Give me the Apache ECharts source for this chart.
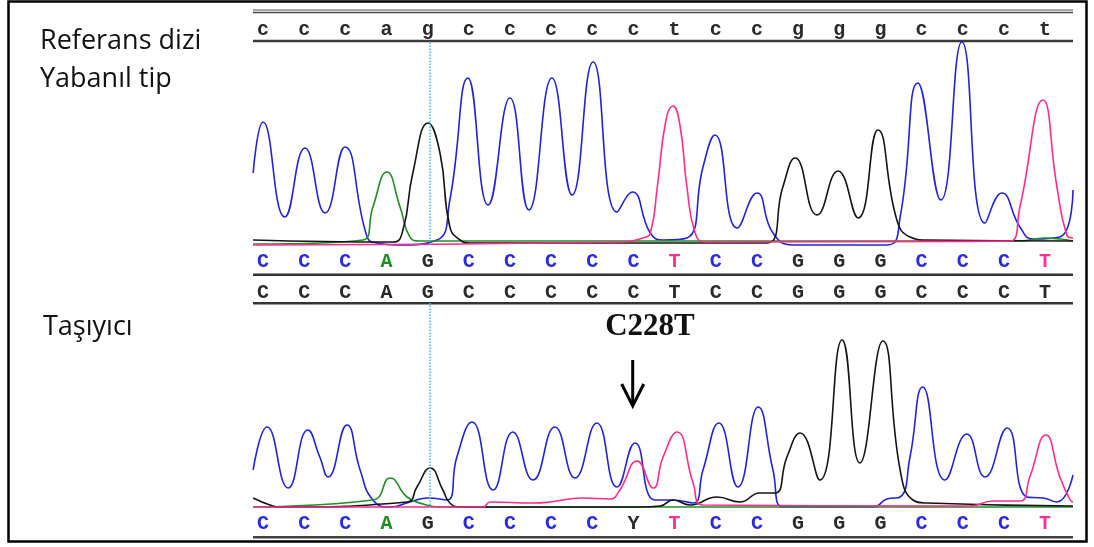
<!DOCTYPE html>
<html>
<head>
<meta charset="utf-8">
<title>C228T</title>
<script src="https://cdn.jsdelivr.net/npm/echarts@6/dist/echarts.min.js"></script>
<style>
  html, body { margin: 0; padding: 0; background: #fff; }
  #chart { width: 1094px; height: 547px; }
</style>
</head>
<body>
<div id="chart"></div>
<script>
// baz dizileri (referans / çağrılan bazlar)
const refBases = ['c', 'c', 'c', 'a', 'g', 'c', 'c', 'c', 'c', 'c', 't', 'c', 'c', 'g', 'g', 'g', 'c', 'c', 'c', 't']
const wtCalls = ['C', 'C', 'C', 'A', 'G', 'C', 'C', 'C', 'C', 'C', 'T', 'C', 'C', 'G', 'G', 'G', 'C', 'C', 'C', 'T']
const carRefBases = ['C', 'C', 'C', 'A', 'G', 'C', 'C', 'C', 'C', 'C', 'T', 'C', 'C', 'G', 'G', 'G', 'C', 'C', 'C', 'T']
const carCalls = ['C', 'C', 'C', 'A', 'G', 'C', 'C', 'C', 'C', 'Y', 'T', 'C', 'C', 'G', 'G', 'G', 'C', 'C', 'C', 'T']

/** Yabanıl tip izleri: [baz konumu, sinyal] */
const wtC = [[-0.24, 72], [0, 123], [0.53, 28], [1.02, 97], [1.51, 32], [1.99, 98], [2.53, 8], [2.77, 2], [3.26, 0], [4.23, 5], [4.54, 45], [4.98, 167], [5.47, 40], [6.0, 147], [6.46, 35], [7.02, 167], [7.51, 50], [8.02, 183], [8.6, 33], [8.97, 53], [9.41, 12], [9.72, 5], [10.3, 7], [10.69, 78], [10.98, 110], [11.52, 17], [12.0, 52], [12.39, 12], [12.88, 0], [15.16, 0], [15.48, 28], [15.91, 162], [16.47, 45], [16.98, 203], [17.54, 22], [17.95, 52], [18.39, 18], [18.71, 6], [19.36, 8], [19.68, 55]]
const wtA = [[-0.24, 1], [2.43, 5], [2.67, 38], [3.01, 73], [3.33, 38], [3.57, 8], [3.81, 4], [18.39, 4], [18.99, 7], [19.36, 6], [19.68, 4]]
const wtG = [[-0.24, 5], [3.16, 3], [3.4, 15], [3.64, 72], [4.01, 122], [4.3, 92], [4.54, 18], [4.79, 5], [5.03, 2], [12.24, 2], [12.63, 58], [12.93, 87], [13.46, 30], [13.97, 74], [14.46, 27], [14.94, 115], [15.4, 25], [15.72, 8], [16.13, 5], [19.68, 4]]
const wtT = [[-0.24, 0], [8.75, 3], [9.23, 7], [9.41, 12], [9.58, 58], [9.79, 125], [9.96, 139], [10.13, 120], [10.3, 58], [10.5, 12], [10.74, 3], [18.15, 4], [18.39, 38], [18.95, 145], [19.29, 58], [19.53, 10], [19.68, 7]]

/** Taşıyıcı izleri */
const carC = [[-0.24, 38], [0.1, 81], [0.61, 20], [1.09, 78], [1.38, 51], [1.58, 31], [2.04, 83], [2.36, 38], [2.67, 8], [3.09, 1], [3.57, 6], [4.01, 10], [4.47, 8], [4.71, 51], [5.08, 86], [5.59, 18], [6.07, 76], [6.56, 28], [7.09, 81], [7.58, 30], [8.11, 85], [8.6, 21], [9.04, 65], [9.52, 8], [9.96, 8], [10.45, 5], [10.69, 38], [11.08, 85], [11.54, 21], [12.03, 101], [12.39, 38], [12.63, 1], [14.82, 1], [15.16, 9], [15.48, 11], [15.72, 51], [16.03, 121], [16.57, 28], [17.1, 74], [17.54, 31], [18.08, 80], [18.56, 11], [18.95, 10], [19.29, 6], [19.68, 33]]
const carA = [[-0.24, 1], [2.67, 8], [3.09, 30], [3.5, 11], [3.89, 4], [4.3, 1], [19.68, 1]]
const carG = [[-0.24, 10], [0.17, 3], [0.41, 1], [3.5, 6], [3.74, 21], [4.06, 40], [4.37, 18], [4.54, 5], [4.79, 1], [9.16, 1], [9.65, 2], [9.96, 8], [10.38, 3], [11.03, 11], [11.59, 6], [12.07, 15], [12.44, 15], [12.73, 51], [13.05, 75], [13.53, 28], [14.07, 168], [14.5, 45], [15.06, 167], [15.48, 38], [15.79, 8], [16.13, 5], [19.68, 2]]
const carT = [[-0.24, 1], [5.35, 1], [5.52, 6], [6.56, 5], [6.97, 6], [7.77, 10], [8.43, 9], [8.67, 18], [9.09, 47], [9.48, 20], [9.72, 51], [10.06, 76], [10.45, 25], [10.69, 3], [17.18, 2], [17.74, 7], [18.39, 7], [18.63, 31], [19.02, 73], [19.36, 31], [19.61, 8], [19.68, 6]]

const baseColor = { A: '#1f8f24', C: '#2a2ae0', G: '#2a2a2a', T: '#ff2f92', Y: '#2a2a2a' }
const traceColor = { A: '#1f8f24', C: '#2222dd', G: '#141414', T: '#ff2a8a' }

const chartInstance = echarts.init(document.getElementById('chart'))

function coloured(bases) {
  return bases.map((b) => ({ value: b, textStyle: { color: baseColor[b], verticalAlign: 'middle' } }))
}

function letterAxis(gridIndex, position, data, margin) {
  return {
    type: 'category',
    gridIndex,
    position,
    data,
    boundaryGap: true,
    axisLine: { show: false },
    axisTick: { show: false },
    splitLine: { show: false },
    axisLabel: {
      interval: 0,
      margin,
      verticalAlign: 'middle',
      fontFamily: 'Liberation Mono',
      fontWeight: 'bold',
      fontSize: 20,
      color: '#2a2a2a'
    }
  }
}

function trace(name, data, axis, color) {
  return {
    name,
    type: 'line',
    xAxisIndex: axis,
    yAxisIndex: axis,
    data,
    smooth: 0.5,
    showSymbol: false,
    clip: false,
    silent: true,
    lineStyle: { width: 1.6, color },
    itemStyle: { color }
  }
}

const cursorLine = {
  silent: true,
  symbol: 'none',
  label: { show: false },
  lineStyle: { color: '#3db6ea', type: 'dotted', width: 1.5 },
  data: [{ xAxis: 4.05 }]
}

function hr(y, color, width) {
  return { type: 'line', shape: { x1: 253, y1: y, x2: 1073, y2: y }, style: { stroke: color, lineWidth: width }, silent: true }
}

function label(text, x, y, font, align) {
  return { type: 'text', x, y, style: { text, font, fill: '#111', textAlign: align || 'left', textVerticalAlign: 'middle' }, silent: true }
}

const option = {
  animation: false,
  grid: [
    { left: 253, width: 820, top: 41, height: 204 },
    { left: 253, width: 820, top: 303, height: 205 },
    { left: 242.42, width: 823.2, top: 41, height: 204 },
    { left: 242.42, width: 823.2, top: 303, height: 205 }
  ],
  xAxis: [
    { type: 'value', gridIndex: 0, min: -0.243, max: 19.68, show: false },
    { type: 'value', gridIndex: 1, min: -0.243, max: 19.68, show: false },
    letterAxis(2, 'top', refBases, 11),
    letterAxis(2, 'bottom', coloured(wtCalls), 16.5),
    letterAxis(3, 'top', carRefBases, 10.5),
    letterAxis(3, 'bottom', coloured(carCalls), 16)
  ],
  yAxis: [
    { type: 'value', gridIndex: 0, min: 0, max: 204, show: false },
    { type: 'value', gridIndex: 1, min: 0, max: 205, show: false },
    { type: 'value', gridIndex: 2, show: false },
    { type: 'value', gridIndex: 3, show: false }
  ],
  series: [
    Object.assign(trace('C', wtC, 0, traceColor.C), { markLine: cursorLine }),
    trace('A', wtA, 0, traceColor.A),
    trace('G', wtG, 0, traceColor.G),
    trace('T', wtT, 0, traceColor.T),
    Object.assign(trace('C', carC, 1, traceColor.C), { markLine: cursorLine }),
    trace('A', carA, 1, traceColor.A),
    trace('G', carG, 1, traceColor.G),
    trace('T', carT, 1, traceColor.T)
  ],
  graphic: [
    { type: 'rect', shape: { x: 8.5, y: 1.5, width: 1078, height: 540 }, style: { fill: 'none', stroke: '#000', lineWidth: 2.5 }, silent: true },
    hr(10, '#a8a8a8', 2),
    hr(12.5, '#4a4a4a', 1.5),
    hr(41, '#3a3a3a', 2.5),
    hr(274.7, '#333', 2.5),
    hr(303.3, '#333', 2.5),
    hr(537.3, '#444', 2.5),
    label('Referans dizi', 40, 41, '27px "Open Sans"'),
    label('Yabanıl tip', 40, 79, '27px "Open Sans"'),
    label('Taşıyıcı', 43, 327, '27px "Open Sans"'),
    label('C228T', 650, 327, 'bold 31px "Liberation Serif"', 'center'),
    { type: 'line', shape: { x1: 632.7, y1: 360, x2: 632.7, y2: 405 }, style: { stroke: '#000', lineWidth: 3 }, silent: true },
    { type: 'polyline', shape: { points: [[621.7, 384], [632.7, 406], [643.7, 384]] }, style: { stroke: '#000', lineWidth: 3, fill: 'none' }, silent: true }
  ]
}

chartInstance.setOption(option)
</script>
</body>
</html>
